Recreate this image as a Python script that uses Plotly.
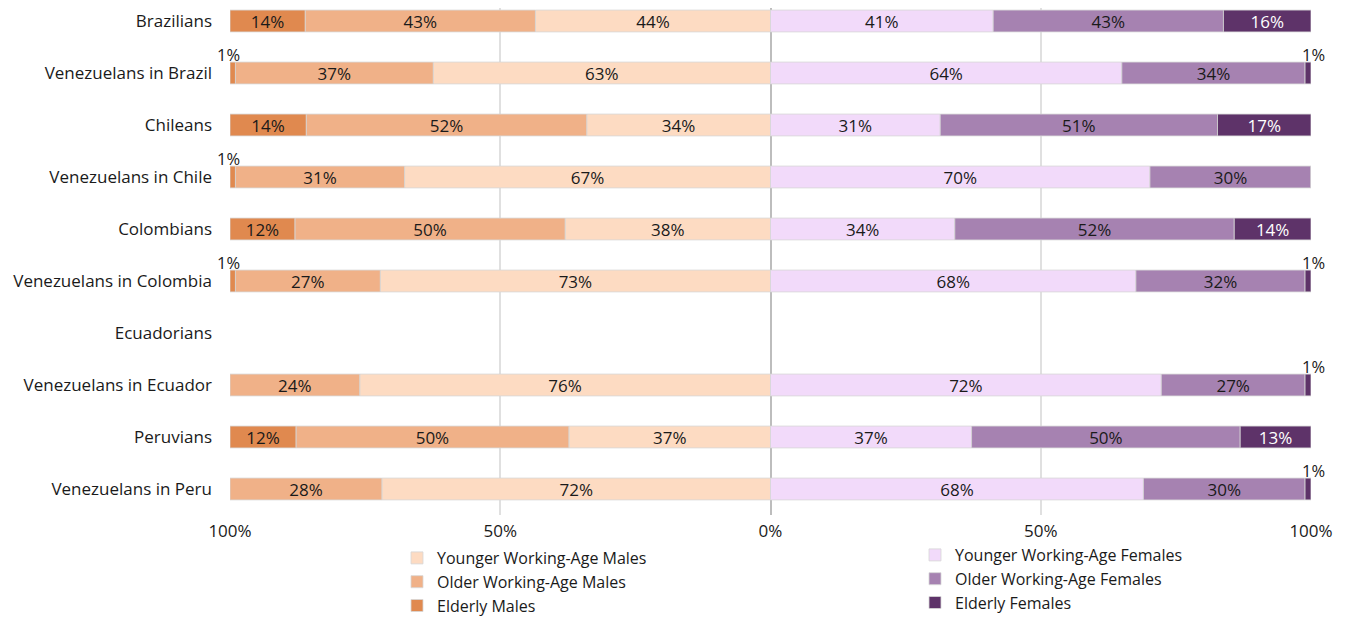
import plotly.graph_objects as go

categories = ["Brazilians", "Venezuelans in Brazil", "Chileans", "Venezuelans in Chile",
              "Colombians", "Venezuelans in Colombia", "Ecuadorians", "Venezuelans in Ecuador",
              "Peruvians", "Venezuelans in Peru"]

# shares (in %)
m_young = [43.5, 62.4, 34.0, 67.7, 38.0, 72.2, None, 76.0, 37.3, 71.9]
m_older = [42.6, 36.6, 51.9, 31.3, 50.0, 26.8, None, 24.0, 50.5, 28.1]
m_elderly = [13.9, 1.0, 14.1, 1.0, 12.0, 1.0, None, 0.0, 12.2, 0.0]

f_young = [41.2, 65.0, 31.4, 70.2, 34.1, 67.6, None, 72.3, 37.2, 69.0]
f_older = [42.6, 33.9, 51.3, 29.8, 51.7, 31.3, None, 26.6, 49.7, 29.9]
f_elderly = [16.2, 1.1, 17.3, 0.0, 14.2, 1.1, None, 1.1, 13.1, 1.1]

# printed labels
m_young_lbl = ["44%", "63%", "34%", "67%", "38%", "73%", "", "76%", "37%", "72%"]
m_older_lbl = ["43%", "37%", "52%", "31%", "50%", "27%", "", "24%", "50%", "28%"]
m_elderly_lbl = ["14%", "1%", "14%", "1%", "12%", "1%", "", "", "12%", ""]
f_young_lbl = ["41%", "64%", "31%", "70%", "34%", "68%", "", "72%", "37%", "68%"]
f_older_lbl = ["43%", "34%", "51%", "30%", "52%", "32%", "", "27%", "50%", "30%"]
f_elderly_lbl = ["16%", "1%", "17%", "", "14%", "1%", "", "1%", "13%", "1%"]

tick_vals = [-100, -50, 0, 50, 100]
tick_text = ["100%", "50%", "0%", "50%", "100%"]

FONT = "Open Sans"
TXT = "#1a1a1a"

def inside(lbls):
    # tiny 1% segments get their label above the bar instead
    return [("" if l == "1%" else l) for l in lbls]

def neg(arr):
    return [(-v if v is not None else None) for v in arr]

series = [
    ("Younger Working-Age Males", neg(m_young), inside(m_young_lbl), "#FDDBC2", TXT, "legend"),
    ("Older Working-Age Males", neg(m_older), inside(m_older_lbl), "#F0B188", TXT, "legend"),
    ("Elderly Males", neg(m_elderly), inside(m_elderly_lbl), "#E0894F", TXT, "legend"),
    ("Younger Working-Age Females", f_young, inside(f_young_lbl), "#F2DAFA", TXT, "legend2"),
    ("Older Working-Age Females", f_older, inside(f_older_lbl), "#A682B1", TXT, "legend2"),
    ("Elderly Females", f_elderly, inside(f_elderly_lbl), "#5E3369", "#FFFFFF", "legend2"),
]

fig = go.Figure()
for name, xs, txt, col, tcol, lg in series:
    fig.add_trace(go.Bar(
        y=categories, x=xs, orientation="h", name=name, width=0.42,
        marker=dict(color=col, line=dict(color="rgba(215,215,215,0.8)", width=1)),
        text=txt, textposition="inside", insidetextanchor="middle",
        textfont=dict(family=FONT, size=17, color=tcol),
        constraintext="none", legend=lg, hoverinfo="skip",
    ))

annotations = []
for i, cat in enumerate(categories):
    if m_elderly_lbl[i] == "1%":
        annotations.append(dict(x=-(m_young[i] + m_older[i] + m_elderly[i] / 2), y=cat,
                                text="1%", showarrow=False, yshift=19, xshift=-4,
                                font=dict(family=FONT, size=16.5, color=TXT)))
    if f_elderly_lbl[i] == "1%":
        annotations.append(dict(x=f_young[i] + f_older[i] + f_elderly[i] / 2, y=cat,
                                text="1%", showarrow=False, yshift=19, xshift=5,
                                font=dict(family=FONT, size=16.5, color=TXT)))

PLOT_L, PLOT_W, PLOT_H = 222, 1081, 507

fig.update_layout(
    barmode="relative",
    width=1343, height=611,
    margin=dict(l=PLOT_L, r=40, t=0, b=104, autoexpand=False),
    paper_bgcolor="white", plot_bgcolor="white",
    font=dict(family=FONT, size=16, color=TXT),
    annotations=annotations,
    xaxis=dict(range=[-100, 100], tickvals=tick_vals, ticktext=tick_text,
               showgrid=True, gridcolor="#e0e0e0", gridwidth=1.5,
               zeroline=True, zerolinecolor="#bdbdbd", zerolinewidth=1.5,
               tickfont=dict(family=FONT, size=17, color=TXT),
               ticks="outside", ticklen=1, tickcolor="rgba(0,0,0,0)", fixedrange=True),
    yaxis=dict(categoryorder="array", categoryarray=categories,
               range=[9.5, -0.25], showgrid=False, zeroline=False,
               tickfont=dict(family=FONT, size=17, color=TXT),
               ticklabelstandoff=17, fixedrange=True),
    legend=dict(x=(389 - PLOT_L) / PLOT_W, xanchor="left", y=-26 / PLOT_H, yanchor="top",
                traceorder="normal", font=dict(family=FONT, size=16, color=TXT),
                bgcolor="rgba(0,0,0,0)", itemclick=False, itemdoubleclick=False),
    legend2=dict(x=(907 - PLOT_L) / PLOT_W, xanchor="left", y=-23 / PLOT_H, yanchor="top",
                 traceorder="normal", font=dict(family=FONT, size=16, color=TXT),
                 bgcolor="rgba(0,0,0,0)", itemclick=False, itemdoubleclick=False),
    showlegend=True,
)

fig.write_html("out.html")
